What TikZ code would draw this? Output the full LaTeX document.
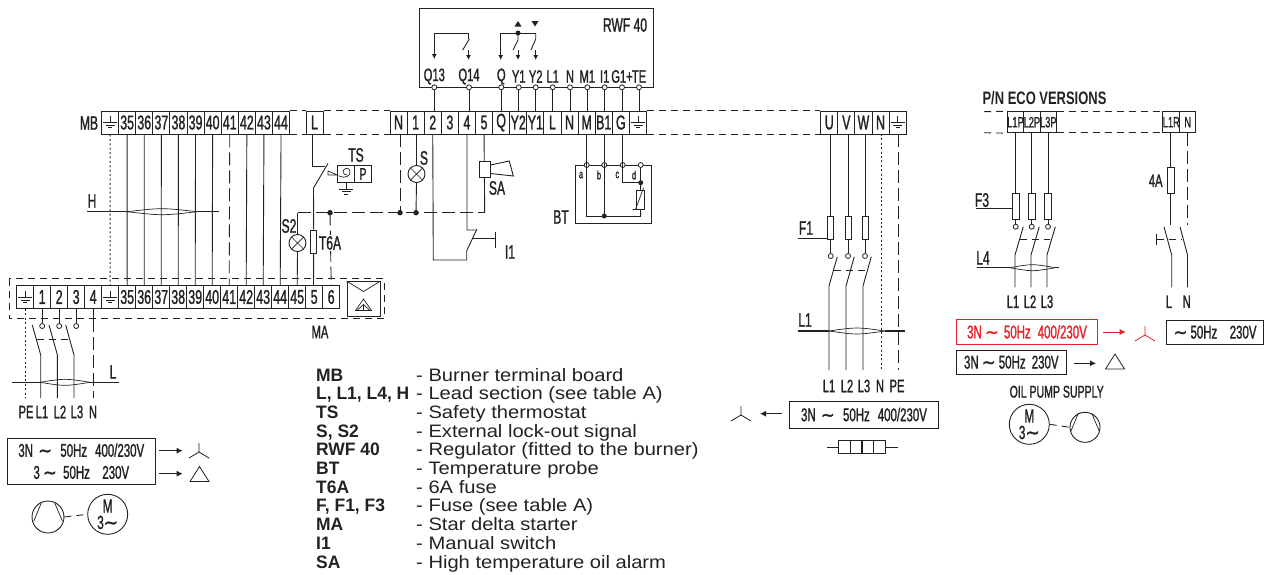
\documentclass[tikz,border=0pt]{standalone}
\usepackage{fontspec}
\usetikzlibrary{arrows.meta}
\setmainfont{Liberation Sans}
\newfontfamily\cond[FakeStretch=0.62,FakeBold=1.2]{Liberation Sans}
\newfontfamily\ecof[FakeStretch=0.72]{Liberation Sans}
\newfontfamily\legf[FakeStretch=1.12]{Liberation Sans}
\newfontfamily\legb[FakeStretch=0.97]{Liberation Sans}
\newfontfamily\symf[FakeStretch=0.9,FakeBold=1.5]{DejaVu Sans}
\newcommand{\tld}{{\symf ∼}}
\definecolor{ink}{HTML}{222222}
\definecolor{redc}{HTML}{E8212B}
\tikzset{
 wire/.style={draw=ink,line width=0.9pt},
 thinw/.style={draw=ink,line width=0.7pt},
 ldash/.style={wire,dash pattern=on 13pt off 5pt on 13pt off 5pt},
 sdash/.style={wire,dash pattern=on 7pt off 5pt},
 dotw/.style={wire,dash pattern=on 2pt off 2.4pt},
 cell/.style={draw=ink,line width=0.9pt,minimum width=17.1pt,minimum height=23pt,inner sep=0pt,font=\cond\fontsize{20}{20}\selectfont,text=ink},
 smcell/.style={cell,minimum width=16.3pt,minimum height=21pt,font=\cond\fontsize{15}{15}\selectfont},
 lbl/.style={inner sep=0pt,font=\cond\fontsize{19.5}{19.5}\selectfont,text=ink},
 slbl/.style={inner sep=0pt,font=\cond\fontsize{18}{18}\selectfont,text=ink},
 tiny/.style={inner sep=0pt,font=\cond\fontsize{12}{12}\selectfont,text=ink},
 term/.style={circle,draw=ink,line width=0.8pt,fill=white,minimum size=5pt,inner sep=0pt},
 jdot/.style={circle,fill=ink,minimum size=5.5pt,inner sep=0pt},
 fuse/.style={draw=ink,line width=0.8pt,fill=white,minimum width=6pt,inner sep=0pt},
 lamp/.style={circle,draw=ink,line width=0.9pt,fill=white,minimum size=17pt,inner sep=0pt},
 plainbox/.style={draw=ink,line width=0.9pt,inner sep=0pt,minimum height=0pt},
 vbox/.style={draw=ink,line width=0.9pt,inner sep=0pt,font=\cond\fontsize{18.5}{22}\selectfont,text=ink,align=center},
 motor/.style={circle,draw=ink,line width=0.9pt,minimum size=40pt,inner sep=0pt,align=center,font=\cond\fontsize{19}{16.5}\selectfont,text=ink},
 arr/.style={wire,-{Latex[length=6pt,width=6pt]}},
 legl/.style={inner sep=0pt,anchor=base west,font=\legb\fontsize{18}{18}\selectfont\bfseries,text=ink},
 legr/.style={inner sep=0pt,anchor=base west,font=\legf\fontsize{18}{18}\selectfont,text=ink},
}
\newcommand{\gnd}[2]{%
 \draw[thinw] (#1,#2-6) -- (#1,#2+0.5) (#1-7,#2+0.5) -- (#1+7,#2+0.5) (#1-4.5,#2+3) -- (#1+4.5,#2+3) (#1-2,#2+5.5) -- (#1+2,#2+5.5);}
\newcommand{\cablesym}[5]{% y, x1, a, b, x2
 \draw[draw=ink,line width=1.3pt] (#2,#1) -- (#3,#1) (#4,#1) -- (#5,#1);
 \draw[thinw] (#3,#1) .. controls ({(#3+#4)/2},#1-4) .. (#4,#1);
 \draw[thinw] (#3,#1) .. controls ({(#3+#4)/2},#1+4) .. (#4,#1);}
\newcommand{\starsym}[3][ink]{%
 \draw[draw=#1,line width=0.8pt] (#2,#3) -- (#2,#3-9) (#2,#3) -- (#2-10,#3+6) (#2,#3) -- (#2+10,#3+6);}
\newcommand{\trisym}[2]{%
 \draw[wire,line width=0.8pt] (#1-9.5,#2+7) -- (#1,#2-8) -- (#1+9.5,#2+7) -- cycle;}
\newcommand{\pumpsym}[2]{%
 \draw[thinw] (#1-6.7,#2-14) -- (#1-14.3,#2+4.3) (#1+6.7,#2-14) -- (#1+14.5,#2+4.3);}
\begin{document}
\begin{tikzpicture}[x=1pt,y=-1pt]
\useasboundingbox (0,0) rectangle (1278,574);
% MB strip
\node[cell] (mbg) at (110.05,122.5) {};
\gnd{110}{122}
\foreach \n [count=\i from 1] in {35,36,37,38,39,40,41,42,43,44}
  \node[cell] (mb\n) at ({110.05+17.1*\i},122.5) {\n};
\node[cell] (mbL) at (314.5,122.5) {L};
\node[lbl] (lblMB) at (89,123) {MB};
% second strip
\foreach \k/\t [count=\i from 0] in {N/N,a/1,b/2,c/3,d/4,e/5,Q/Q,Yb/Y2,Ya/Y1,L/L,Nb/N,M/M,B/B1,G/G,PE/}
  \node[cell] (s\k) at ({398.55+17.1*\i},122.5) {\t};
\gnd{638}{122}
% third strip
\foreach \k/\t [count=\i from 0] in {U/U,V/V,W/W,N/N,G/}
  \node[cell] (t\k) at ({829.25+17.1*\i},122.5) {\t};
\gnd{897.7}{122}
% dashed rails
\draw[sdash] (mb44.north east) -- (mbL.north west) (mb44.south east) -- (mbL.south west);
\draw[sdash] (mbL.north east) -- (sN.north west) (mbL.south east) -- (sN.south west);
\draw[sdash] (sPE.north east) -- (tU.north west) (sPE.south east) -- (tU.south west);
% MA strip
\draw[sdash] (9,278.5) rectangle (384,318.5);
\node[cell] (mag) at (25.2,297) {};
\gnd{25.2}{297}
\foreach \k/\t [count=\i from 1] in {1/1,2/2,3/3,4/4,gg/}
  \node[cell,minimum width=17pt] (ma\k) at ({25.2+17*\i},297) {\t};
\gnd{110.2}{297}
\foreach \n [count=\i from 6] in {35,36,37,38,39,40,41,42,43,44,45,5,6}
  \node[cell,minimum width=17pt] (ma\n) at ({25.2+17*\i},297) {\n};
\node[plainbox,minimum width=33pt,minimum height=35pt] (starter) at (363.5,299) {};
\draw[thinw] (starter.north west) -- (363.5,291.5) -- (starter.north east);
\draw[thinw] (363.5,299) -- (355.5,310.5) -- (371.5,310.5) -- cycle;
\draw[thinw] (363.5,304.5) -- (363.5,310.5) (363.5,304.5) -- (357,310.5) (363.5,304.5) -- (370,310.5);
\node[slbl] (lblMA) at (320,332) {MA};
% MB - MA wires
\draw[dotw] (mbg.south) -- (magg.north);
\foreach \n in {35,36,37,38,39,40,42,43,44}
  \draw[wire] (mb\n.south) -- (ma\n.north);
\draw[ldash] (mb41.south) -- (ma41.north);
\cablesym{211.7}{87}{127}{197}{219}
\node[lbl] (lblH) at (92,201) {H};
% RWF
\node[plainbox,minimum width=234.3pt,minimum height=79pt] (rwf) at (536.15,47.8) {};
\node[lbl] (lblRWF) at (625,25) {RWF 40};
\foreach \k/\x/\t in {q13/434.3/Q13,q14/469/Q14,q/501.3/Q,ya/518.7/Y1,yb/535.7/Y2,la/552.7/L1,n/570/N,ma/587.3/M1,ia/604.7/I1,ga/622/G1+,te/639/TE}{
  \node[slbl] (lb\k) at (\x,76.5) {\t};
  \node[term] (T\k) at (\x,87.3) {};
}
\foreach \a/\b in {q13/b,q14/d,q/Q,ya/Yb,yb/Ya,la/L,n/Nb,ma/M,ia/B,ga/G,te/PE}
  \draw[wire] (T\a.south) -- (T\a.south |- s\b.north);
% RWF inside
\coordinate (q13in) at (434.3,59);
\coordinate (q14top) at (468.5,33.3);
\draw[wire,-{Latex[length=5pt,width=5pt]}] (434.3,33.3) -- (q13in);
\draw[wire] (434.3,33.3) -- (q14top) -- (468.5,39);
\draw[wire] (469.3,39) -- (462.7,50);
\draw[wire,-{Latex[length=5pt,width=5pt]}] (468.5,50) -- (468.5,60);
\draw[wire] (500.7,33) -- (535.7,33);
\draw[wire,{Latex[length=5pt,width=5pt]}-] (500.7,60) -- (500.7,33);
\node[jdot,minimum size=5pt] (rj) at (518,33) {};
\draw[wire] (rj.center) -- (518,40) -- (513,50);
\draw[wire,-{Latex[length=5pt,width=5pt]}] (518,50) -- (518,60);
\draw[wire] (535.7,33) -- (535.7,39) -- (531,50);
\draw[wire,-{Latex[length=5pt,width=5pt]}] (535.7,50) -- (535.7,60);
\fill[ink] (518,21) -- (521.5,26.5) -- (514.5,26.5) -- cycle;
\fill[ink] (535,26.5) -- (538.5,21) -- (531.5,21) -- cycle;
% L / TS
\coordinate (lsw) at (325,166.7);
\draw[wire] (mbL.south -| 312.3,0) -- (312.3,166.7) -- (lsw);
\draw[wire] (328,163.5) -- (313.5,188);
\node[plainbox,minimum width=34.4pt,minimum height=16.6pt] (tsbox) at (354.5,174) {};
\draw[wire] (354.3,165.7) -- (354.3,182.3);
\node[lbl,font=\cond\fontsize{17}{17}\selectfont] (lblP) at (363,174) {P};
\draw[thinw] (328,171) -- (337.3,175) -- (328,175) -- cycle;
\draw[thinw] (339,176) .. controls (345,179) and (351,176) .. (350,171) .. controls (349,167) and (344,168) .. (343,171) .. controls (343,174) and (345,175) .. (347,175);
\gnd{346}{188.5}
\node[lbl] (lblTS) at (356,155) {TS};
\node[fuse,minimum height=23pt] (t6a) at (313.7,241.6) {};
\draw[wire] (313.5,188) -- (t6a.north);
\draw[wire] (t6a.south) -- (313.5,286);
% S2
\node[lamp] (s2lamp) at (297.5,243) {};
\draw[thinw] (s2lamp.north west) -- (s2lamp.south east) (s2lamp.north east) -- (s2lamp.south west);
\coordinate (s2top) at (297.5,212.7);
\draw[wire] (s2lamp.north) -- (s2top);
\draw[wire] (s2lamp.south) -- (ma45.north);
\node[lbl] (lblS2) at (289,226) {S2};
% neutral bus
\node[jdot] (j6) at (330,212.7) {};
\node[jdot] (jN) at (400,212.7) {};
\node[jdot] (jS) at (416,212.7) {};
\coordinate (busR) at (484.7,212.7);
\draw[ldash] (s2top) -- (j6.center) -- (jN.center) -- (jS.center) -- (busR);
\draw[ldash] (j6.center) -- (ma6.north);
\node[lbl,fill=white,inner sep=1pt] (lblT6A) at (330,243) {T6A};
\draw[ldash] (sN.south -| jN) -- (jN.center);
\node[lamp] (slamp) at (416.5,174) {};
\draw[thinw] (slamp.north west) -- (slamp.south east) (slamp.north east) -- (slamp.south west);
\draw[wire] (sa.south -| slamp) -- (slamp.north);
\draw[wire] (slamp.south) -- (jS.center);
\node[lbl] (lblS) at (424,158) {S};
% SA
\draw[wire] (se.south) -- (busR);
\node[plainbox,fill=white,minimum width=10.7pt,minimum height=16pt] (horn) at (484.7,169.7) {};
\draw[wire] (horn.east |- 0,165) -- (509.3,161) -- (513.3,176) -- (horn.east |- 0,173.5);
\node[lbl] (lblSA) at (497,188) {SA};
% I1
\coordinate (i1a) at (433.3,260);
\coordinate (i1b) at (466.7,260);
\draw[wire] (sb.south) -- (i1a) -- (i1b) -- (466.7,250.7) -- (477,229);
\draw[wire] (sd.south) -- (467,230) -- (475.5,230);
\draw[wire] (472,238.3) -- (495,238.3);
\draw[wire] (495,232) -- (495,248);
\node[lbl] (lblI1) at (510,252) {I1};
% BT
\node[plainbox,minimum width=76pt,minimum height=58.3pt] (bt) at (613,194.15) {};
\foreach \k/\x/\t/\lx in {a/586.7/a/581,b/604.3/b/599,c/622.7/c/617.3,d/640.7/d/634}{
  \node[term] (bt\k) at (\x,165) {};
  \node[tiny] (lb\k) at (\lx,175) {\t};
}
\draw[wire] (sM.south -| bta) -- (bta.south);
\draw[wire] (sB.south -| btb) -- (btb.south);
\draw[wire] (sG.south -| btc) -- (btc.south);
\node[jdot,minimum size=5pt] (jb) at (604.3,216) {};
\node[jdot,minimum size=5pt] (jd) at (640.7,182.7) {};
\draw[wire] (btb.south) -- (jb.center);
\draw[wire] (bta.south) -- (586.7,216) -- (640.7,216);
\draw[wire] (btc.south) -- (622.7,182.7) -- (jd.center);
\draw[wire] (btd.south) -- (jd.center);
\node[fuse,minimum width=7.6pt,minimum height=18.6pt] (rt) at (640.5,200) {};
\draw[wire] (jd.center) -- (rt.north);
\draw[wire] (rt.south) -- (640.7,216);
\draw[thinw] (632.5,209.5) -- (635.5,209.5) -- (643.5,188);
\node[lbl] (lblBT) at (561,217) {BT};
% Left outlet
\node[term] (ca) at (42.2,326) {};
\node[term] (cb) at (59.2,326) {};
\node[term] (cc) at (76.2,326) {};
\draw[wire] (ma1.south) -- (ca.north);
\draw[wire] (ma2.south) -- (cb.north);
\draw[wire] (ma3.south) -- (cc.north);
\draw[wire] (32.3,325) -- (40.7,355) -- (40.7,398);
\draw[wire] (49,325) -- (57.4,355) -- (57.4,398);
\draw[wire] (65.7,325) -- (74,355) -- (74,398);
\draw[sdash] (36.7,339.3) -- (68,339.3);
\coordinate (pe) at (25.2,398);
\coordinate (nn) at (93.2,398);
\draw[dotw] (mag.south) -- (pe);
\draw[wire] (ma4.south) -- (93.2,318.5);
\draw[ldash] (93.2,318.5) -- (nn);
\cablesym{382.3}{12.3}{40}{90}{119}
\node[lbl] (lblL) at (113,372) {L};
\foreach \k/\x/\t in {a/26/PE,b/42/L1,c/60/L2,d/77/L3,e/93/N}
  \node[slbl] (lo\k) at (\x,412) {\t};
\node[vbox,minimum width=148pt,minimum height=45.7pt] (vleft) at (81.3,461.2) {3N\;\tld\;\,50Hz\hspace{8pt}400/230V\\[0pt] 3\,\tld\, 50Hz\,\,\, 230V};
\coordinate (a1s) at (159,450.7); \coordinate (a1e) at (182.7,450.7);
\coordinate (a2s) at (159,473.7); \coordinate (a2e) at (182.7,473.7);
\draw[arr] (a1s) -- (a1e);
\draw[arr] (a2s) -- (a2e);
\starsym{199}{452}
\trisym{199.5}{474.5}
\node[circle,draw=ink,line width=0.9pt,minimum size=32pt,inner sep=0pt] (pumpL) at (48,517) {};
\pumpsym{48}{517}
\node[motor] (motL) at (107.7,514.3) {M\\3\tld};
\draw[sdash] (pumpL.east) -- (motL.west);
% Right outlet
\foreach \k/\x in {U/830.7,V/848,W/865}{
  \node[fuse,minimum height=23.3pt] (f\k) at (\x,227.6) {};
  \node[term] (c\k) at (\x,256) {};
  \draw[wire] (\x,134) -- (f\k.north);
  \draw[wire] (f\k.south) -- (c\k.north);
}
\draw[wire] (837.3,256.7) -- (829,286) -- (829,370);
\draw[wire] (854.3,256.7) -- (846,286) -- (846,370);
\draw[wire] (871.3,256.7) -- (863,286) -- (863,370);
\draw[sdash] (834,270) -- (868,270);
\coordinate (rn) at (881.7,370);
\coordinate (rg) at (898.3,370);
\draw[dotw] (881.7,134) -- (rn);
\draw[ldash] (898.3,134) -- (rg);
\cablesym{331}{797.7}{829}{885}{905}
\coordinate (f1l) at (797.7,238.3);
\draw[wire] (f1l) -- (fU.west |- f1l);
\node[lbl] (lblF1) at (806,228) {F1};
\node[lbl] (lblL1) at (805,320) {L1};
\foreach \k/\x/\t in {a/829/L1,b/847/L2,c/864/L3,d/880/N,e/897/PE}
  \node[slbl] (ro\k) at (\x,386) {\t};
\node[vbox,minimum width=149.4pt,minimum height=27.3pt] (vright) at (864,414.6) {3N\;\tld\;\,50Hz\hspace{8pt}400/230V};
\coordinate (a3s) at (782.3,413.7); \coordinate (a3e) at (760,413.7);
\draw[arr] (a3s) -- (a3e);
\starsym{741}{415}
\foreach \k/\x in {a/844.2,b/856,c/868,d/879.8}
  \node[plainbox,minimum width=11.85pt,minimum height=12.6pt] (rb\k) at (\x,447) {};
\coordinate (lda) at (826.7,447); \coordinate (ldb) at (897.7,447);
\draw[wire] (lda) -- (rba.west) (rbd.east) -- (ldb);
% ECO
\node[inner sep=0pt,font=\ecof\fontsize{18}{18}\selectfont\bfseries,text=ink] (eco) at (1044.5,97.7) {P/N ECO VERSIONS};
\foreach \k/\t [count=\i from 0] in {P/L1P,Q/L2P,R/L3P}
  \node[smcell] (e\k) at ({1015.5+16.4*\i},122.2) {\t};
\node[smcell] (eR) at (1171.3,122.2) {L1R};
\node[smcell] (eN) at (1187.7,122.2) {N};
\coordinate (erl) at (984,111.7); \coordinate (erb) at (984,132.7);
\draw[sdash] (erl) -- (eP.north west) (erb) -- (eP.south west);
\coordinate (em) at (1056.7,111.7); \coordinate (emb) at (1056.7,132.7);
\draw[sdash] (em) -- (em -| eR.west) (emb) -- (emb -| eR.west);
\foreach \k/\x in {P/1015.7,Q/1031.7,R/1048}{
  \node[fuse,minimum width=7.3pt,minimum height=26pt] (ef\k) at (\x,206.3) {};
  \node[term] (ec\k) at (\x,226.7) {};
  \draw[wire] (\x,132.7) -- (ef\k.north);
  \draw[wire] (ef\k.south) -- (ec\k.north);
}
\draw[wire] (1023.3,226.7) -- (1015,255) -- (1015,287.3);
\draw[wire] (1039.3,226.7) -- (1031,255) -- (1031,287.3);
\draw[wire] (1055.3,226.7) -- (1047,255) -- (1047,287.3);
\draw[sdash] (1020,239.3) -- (1050,239.3);
\coordinate (f3l) at (976,208.3);
\draw[wire] (f3l) -- (efP.west |- f3l);
\node[lbl] (lblF3) at (982,200) {F3};
\node[lbl] (lblL4) at (983,258) {L4};
\cablesym{267.7}{976.7}{1010}{1055}{1059}
\foreach \k/\x/\t in {a/1013/L1,b/1030/L2,c/1047/L3,d/1169/L,e/1186.7/N}
  \node[slbl] (eo\k) at (\x,301.7) {\t};
\node[fuse,minimum width=6.7pt,minimum height=25.6pt] (ef4) at (1170.7,180.5) {};
\draw[wire] (1170.7,132.7) -- (ef4.north);
\draw[wire] (ef4.south) -- (1170.7,225);
\node[slbl] (lbl4A) at (1155.7,180.7) {4A};
\draw[ldash] (1187.7,132.7) -- (1187.7,225);
\draw[wire] (1164,226.7) -- (1171.7,255) -- (1171.7,287.3);
\draw[wire] (1180,226.7) -- (1187.5,255) -- (1187.5,287.3);
\draw[sdash] (1156.7,239.3) -- (1182,239.3);
\draw[wire] (1156.7,234) -- (1156.7,245);
% ECO voltage boxes
\node[vbox,draw=redc,text=redc,minimum width=140.6pt,minimum height=25pt] (vred) at (1027,331.8) {3N\,\tld\;50Hz\hspace{7pt}400/230V};
\coordinate (a4s) at (1103.3,332); \coordinate (a4e) at (1125.7,332);
\draw[arr,draw=redc] (a4s) -- (a4e);
\starsym[redc]{1145}{335}
\node[vbox,minimum width=96.6pt,minimum height=24.3pt] (v230) at (1215,332.2) {\tld\,50Hz\,\,\, 230V};
\node[vbox,minimum width=110.7pt,minimum height=24.3pt] (v3n) at (1011.3,362.2) {3N\,\tld\,50Hz\,\,230V};
\coordinate (a5s) at (1074,363.3); \coordinate (a5e) at (1096,363.3);
\draw[arr] (a5s) -- (a5e);
\trisym{1115}{362}
\node[slbl,font=\cond\fontsize{17}{17}\selectfont] (lblOil) at (1056.7,391.7) {OIL PUMP SUPPLY};
\node[motor] (motR) at (1029.3,424.3) {M\\3\tld};
\node[circle,draw=ink,line width=0.9pt,minimum size=30pt,inner sep=0pt] (pumpR) at (1085,427.3) {};
\pumpsym{1085}{427.3}
\draw[sdash] (motR.east) -- (pumpR.west);
% Legend
\foreach \k/\y/\l/\r in {a/381/MB/- Burner terminal board,b/399.7/{L, L1, L4, H}/- Lead section (see table A),c/418.4/TS/- Safety thermostat,d/437.1/{S, S2}/- External lock-out signal,e/455.8/RWF 40/- Regulator (fitted to the burner),f/474.5/BT/- Temperature probe,g/493.2/T6A/- 6A fuse,h/511.9/{F, F1, F3}/- Fuse (see table A),i/530.6/MA/- Star delta starter,j/549.3/I1/- Manual switch,k/568/SA/- High temperature oil alarm}{
  \node[legl] (ll\k) at (316,\y) {\l};
  \node[legr] (lr\k) at (416,\y) {\r};
}
\end{tikzpicture}
\end{document}
